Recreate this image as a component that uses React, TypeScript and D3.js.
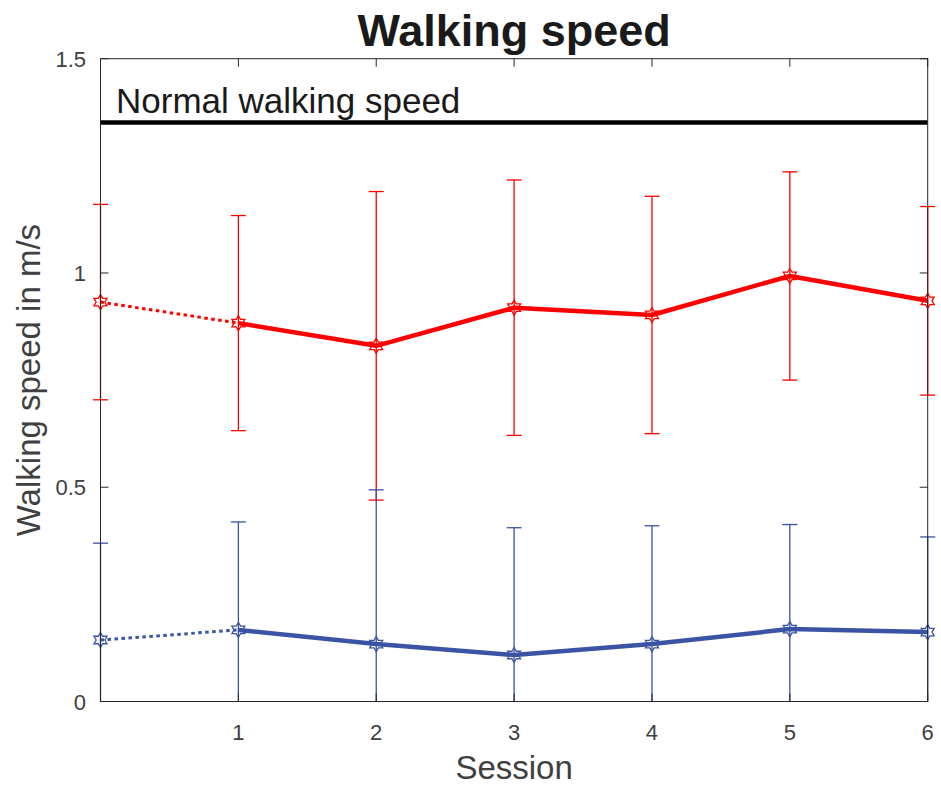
import React from "react";
import * as d3 from "d3";

const sessions = [0, 1, 2, 3, 4, 5, 6];
const redMean = [0.932, 0.883, 0.83, 0.919, 0.902, 0.993, 0.935];
const redErr = [0.228, 0.251, 0.36, 0.298, 0.277, 0.243, 0.22];
const blueMean = [0.1435, 0.167, 0.134, 0.1085, 0.134, 0.169, 0.162];
const blueErr = [0.226, 0.252, 0.36, 0.297, 0.276, 0.244, 0.222];
const xTicks = [1, 2, 3, 4, 5, 6];
const yTicks = [0, 0.5, 1, 1.5];
const normalSpeed = 1.351;

const W = 941, H = 787;
const L = 100.5, R = 927.7, T = 58.7, B = 701.5;
const FONT = "'Liberation Sans', Arial, Helvetica, sans-serif";

function hexagram(cx: number, cy: number, r: number) {
  const ri = r / Math.sqrt(3);
  const pts: string[] = [];
  for (let i = 0; i < 12; i++) {
    const a = (Math.PI / 6) * i - Math.PI / 2;
    const rr = i % 2 === 0 ? r : ri;
    pts.push(`${cx + rr * Math.cos(a)},${cy + rr * Math.sin(a)}`);
  }
  return "M" + pts.join("L") + "Z";
}

export default function App() {
  const x = d3.scaleLinear().domain([0, 6]).range([L, R]);
  const y = d3.scaleLinear().domain([0, 1.5]).range([B, T]);
  const solid = d3
    .line<number>()
    .x((_, i) => x(sessions[i + 1]))
    .y((d) => y(d));

  const series = [
    { mean: redMean, err: redErr, color: "#ff0000" },
    { mean: blueMean, err: blueErr, color: "#3a53a4" },
  ];
  const cap = 7.5;
  const axisColor = "#262626";
  const textColor = "#404040";

  return (
    <svg width={W} height={H} style={{ position: "absolute", left: 0, top: 0, background: "#fff" }}>
      <rect x={0} y={0} width={W} height={H} fill="#fff" />
      {series.map((s, si) =>
        s.mean.map((m, i) => {
          const hi = m + s.err[i];
          const lo = m - s.err[i];
          const xi = x(sessions[i]);
          const loC = Math.max(lo, 0);
          return (
            <g key={`e${si}-${i}`} stroke={s.color} strokeWidth={1.3} fill="none">
              <line x1={xi} x2={xi} y1={y(hi)} y2={y(loC)} />
              <line x1={xi - cap} x2={xi + cap} y1={y(hi)} y2={y(hi)} />
              {lo >= 0 && <line x1={xi - cap} x2={xi + cap} y1={y(lo)} y2={y(lo)} />}
            </g>
          );
        })
      )}
      {series.map((s, si) => (
        <g key={`l${si}`}>
          <line
            x1={x(sessions[0])}
            y1={y(s.mean[0])}
            x2={x(sessions[1])}
            y2={y(s.mean[1])}
            stroke={s.color}
            strokeWidth={3}
            strokeDasharray="3.5 3.5"
          />
          <path
            d={solid(s.mean.slice(1)) as string}
            stroke={s.color}
            strokeWidth={4.5}
            fill="none"
            strokeLinejoin="round"
          />
          {s.mean.map((m, i) => (
            <path key={i} d={hexagram(x(sessions[i]), y(m), 7.5)} fill="none" stroke={s.color} strokeWidth={1.3} />
          ))}
        </g>
      ))}
      <line x1={L} x2={R} y1={y(normalSpeed)} y2={y(normalSpeed)} stroke="#000" strokeWidth={4.5} />
      <text x={116} y={113} fontFamily={FONT} fontSize={35} fill="#1a1a1a">Normal walking speed</text>
      <rect x={L} y={T} width={R - L} height={B - T} fill="none" stroke={axisColor} strokeWidth={1} />
      {xTicks.map((t) => (
        <g key={`xt${t}`} stroke={axisColor} strokeWidth={1}>
          <line x1={x(t)} x2={x(t)} y1={B} y2={B - 8} />
          <line x1={x(t)} x2={x(t)} y1={T} y2={T + 8} />
        </g>
      ))}
      {yTicks.map((t) => (
        <g key={`yt${t}`} stroke={axisColor} strokeWidth={1}>
          <line x1={L} x2={L + 8} y1={y(t)} y2={y(t)} />
          <line x1={R} x2={R - 8} y1={y(t)} y2={y(t)} />
        </g>
      ))}
      {xTicks.map((t) => (
        <text key={`xl${t}`} x={x(t)} y={740} textAnchor="middle" fontFamily={FONT} fontSize={22} fill={textColor}>
          {t}
        </text>
      ))}
      {yTicks.map((t) => (
        <text key={`yl${t}`} x={86} y={y(t) + 8} textAnchor="end" fontFamily={FONT} fontSize={22} fill={textColor}>
          {String(t)}
        </text>
      ))}
      <text x={(L + R) / 2} y={46} textAnchor="middle" fontFamily={FONT} fontSize={45} fontWeight="bold" fill="#1a1a1a">
        Walking speed
      </text>
      <text x={(L + R) / 2} y={779} textAnchor="middle" fontFamily={FONT} fontSize={33} fill={textColor}>
        Session
      </text>
      <text
        transform={`translate(40, ${(T + B) / 2}) rotate(-90)`}
        textAnchor="middle"
        fontFamily={FONT}
        fontSize={33}
        fill={textColor}
      >
        Walking speed in m/s
      </text>
    </svg>
  );
}
